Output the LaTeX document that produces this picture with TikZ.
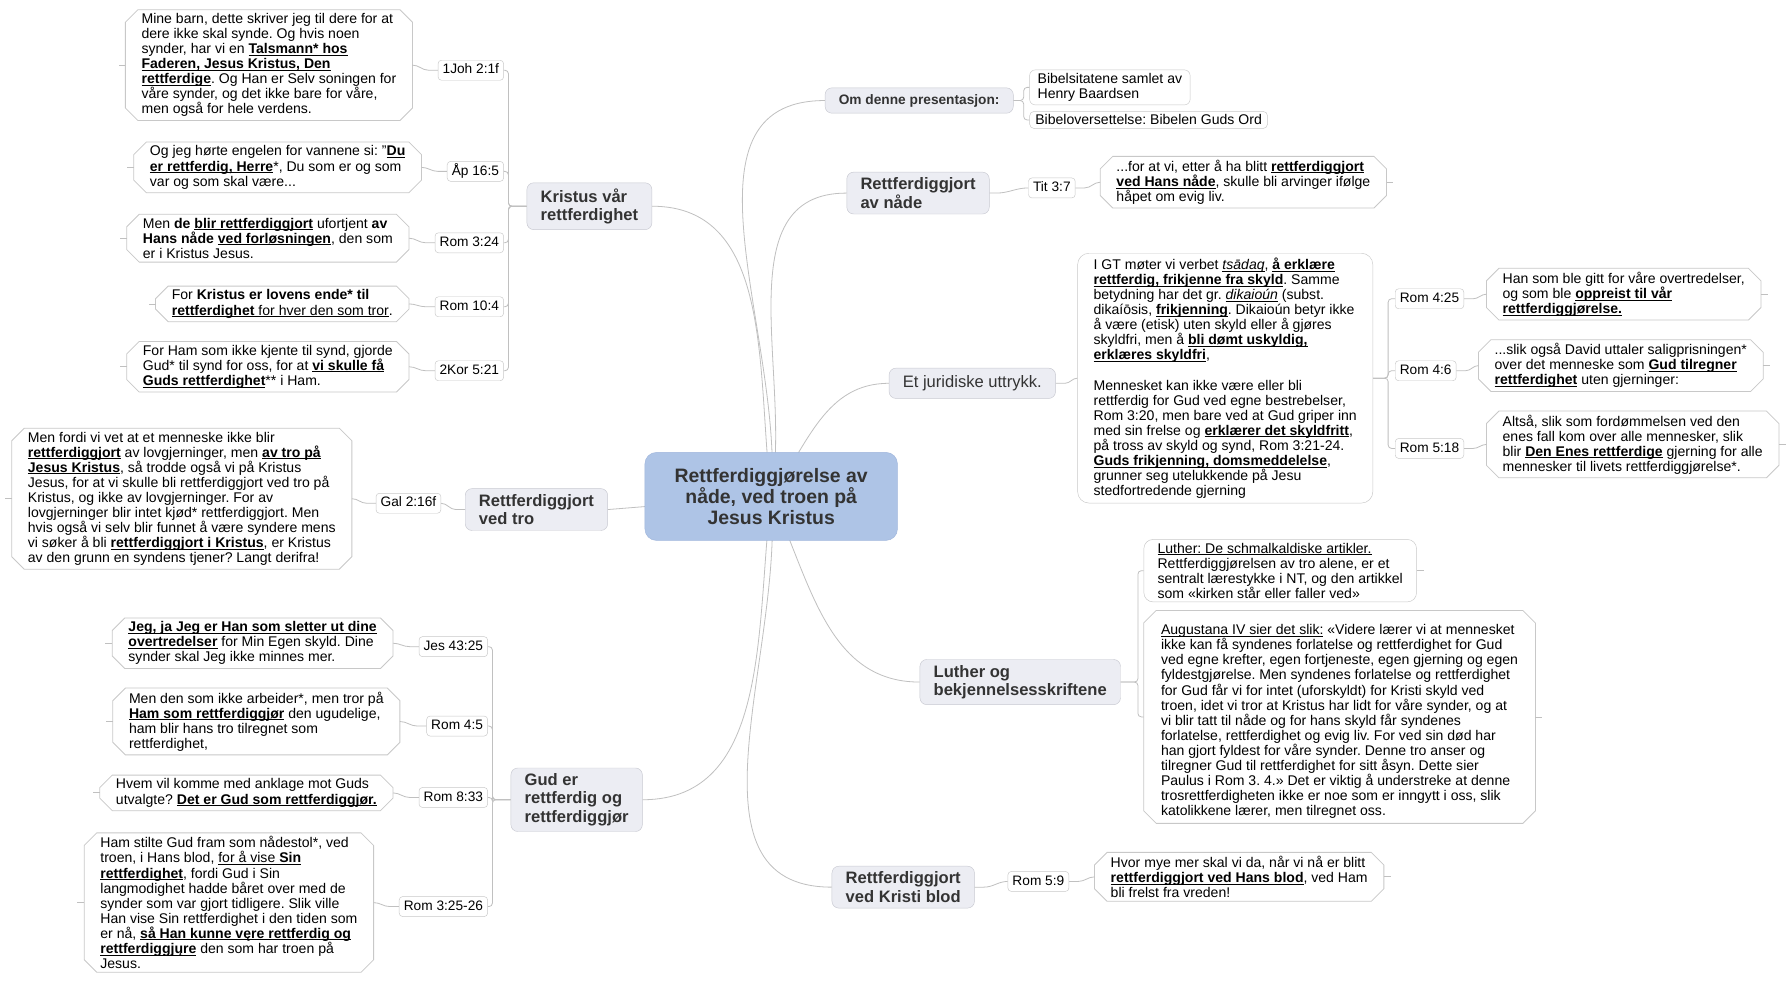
\documentclass[tikz,border=0pt]{standalone}
\usepackage{fontspec}
\setmainfont{Liberation Sans}
\usetikzlibrary{calc}

\definecolor{edgegray}{RGB}{192,192,192}
\definecolor{framegray}{RGB}{200,200,200}
\definecolor{branchfill}{RGB}{236,237,243}
\definecolor{branchframe}{RGB}{200,201,209}
\definecolor{rootfill}{RGB}{174,196,230}
\definecolor{rootframe}{RGB}{160,182,220}
\definecolor{inkgray}{RGB}{51,51,51}

\newcommand{\versefont}{\fontsize{12.3}{13.2}\selectfont\frenchspacing}
\newcommand{\reffont}{\fontsize{12}{13}\selectfont}
\newcommand{\branchfont}{\fontsize{14.5}{16}\selectfont\bfseries}
\newcommand{\rootfont}{\fontsize{17}{18.5}\selectfont\bfseries}
\newcommand{\undl}[1]{\setbox0\hbox{#1}\leavevmode\rlap{\rule[-1.8pt]{\wd0}{0.8pt}}\box0{}}
\newcommand{\ub}[1]{\undl{\textbf{#1}}}

\tikzset{
  conn/.style={draw=edgegray, line width=0.7pt},
  rootbox/.style={draw=rootframe, fill=rootfill, rounded corners=10pt, font=\rootfont, text=inkgray, align=center, minimum width=221pt, minimum height=77pt},
  branchbox/.style={draw=branchframe, fill=branchfill, rounded corners=6pt, font=\branchfont, text=inkgray, align=left, inner xsep=12pt, inner ysep=5pt},
  refbox/.style={draw=framegray, fill=white, rounded corners=3pt, font=\reffont, inner xsep=4pt, inner ysep=3pt, text height=9pt, text depth=2.5pt},
  notebox/.style={draw=framegray, fill=white, rounded corners=8pt, align=left, font=\versefont, inner xsep=12pt, inner ysep=4pt},
  versebox/.style={align=left, font=\versefont, inner xsep=14pt, inner ysep=3pt,
    append after command={\pgfextra{\let\vn\tikzlastnode
      \draw[framegray, line width=0.7pt] ([xshift=11pt]\vn.north west) -- ([xshift=-11pt]\vn.north east)
        -- ([yshift=-11pt]\vn.north east) -- ([yshift=11pt]\vn.south east)
        -- ([xshift=-11pt]\vn.south east) -- ([xshift=11pt]\vn.south west)
        -- ([yshift=11pt]\vn.south west) -- ([yshift=-11pt]\vn.north west) -- cycle;}}},
  versebox left/.style={versebox, append after command={\pgfextra{\let\vn\tikzlastnode \draw[conn] (\vn.west) -- ++(-6,0);}}},
  versebox right/.style={versebox, append after command={\pgfextra{\let\vn\tikzlastnode \draw[conn] (\vn.east) -- ++(6,0);}}}
}

\begin{document}
\begin{tikzpicture}[x=1pt,y=1pt]
\fill[white] (0,0) rectangle (1565,-858);
\useasboundingbox (0,0) rectangle (1565,-858);

% main branches
\node[branchbox, anchor=west] (kristus) at (461,-180.5) {Kristus vår\\rettferdighet};
\node[branchbox, anchor=west] (vedtro) at (407,-446) {Rettferdiggjort\\ved tro};
\node[branchbox, anchor=west] (gud) at (447,-700) {Gud er\\rettferdig og\\rettferdiggjør};
\node[branchbox, anchor=west, font=\fontsize{12}{13}\selectfont\bfseries, inner ysep=5.5pt] (omdenne) at (722,-88) {Om denne presentasjon:};
\node[branchbox, anchor=west] (avnaade) at (741,-169) {Rettferdiggjort\\av nåde};
\node[branchbox, anchor=west, font=\fontsize{14.5}{16}\selectfont, inner ysep=6.5pt] (juridisk) at (778,-335.5) {Et juridiske uttrykk.};
\node[branchbox, anchor=west] (luther) at (805,-597) {Luther og\\bekjennelsesskriftene};
\node[branchbox, anchor=west] (blod) at (728,-776.5) {Rettferdiggjort\\ved Kristi blod};

% centre
\coordinate (hub) at (675,-434.5);
\draw[conn] (kristus.east) to[out=0,in=97] (hub);
\draw[conn] (vedtro.east) -- (hub);
\draw[conn] (gud.east) to[out=0,in=263] (hub);
\draw[conn] (omdenne.west) to[out=180,in=85] (hub);
\draw[conn] (avnaade.west) to[out=180,in=80] (hub);
\draw[conn] (juridisk.west) to[out=180,in=55] (hub);
\draw[conn] (luther.west) to[out=180,in=295] (hub);
\draw[conn] (blod.west) to[out=180,in=275] (hub);
\node[rootbox] (root) at (hub) {Rettferdiggjørelse av\\nåde, ved troen på\\Jesus Kristus};

% Kristus vaar rettferdighet
\node[refbox, anchor=east] (r1joh) at (441,-61.5) {1Joh 2:1f};
\node[refbox, anchor=east] (rap) at (441,-150) {Åp 16:5};
\node[refbox, anchor=east] (r324) at (441,-212.5) {Rom 3:24};
\node[refbox, anchor=east] (r104) at (441,-268.5) {Rom 10:4};
\node[refbox, anchor=east] (r2kor) at (441,-324.5) {2Kor 5:21};
\foreach \r in {r1joh,rap,r324,r104,r2kor}
  \draw[conn, rounded corners=3pt] (kristus.west) -- ($(kristus.west -| r1joh.east)+(4,0)$) |- (\r.east);

\node[versebox left, anchor=east] (t1joh) at (361,-57) {Mine barn, dette skriver jeg til dere for at\\
dere ikke skal synde. Og hvis noen\\
synder, har vi en \ub{Talsmann* hos}\\
\ub{Faderen, Jesus Kristus, Den}\\
\ub{rettferdige}. Og Han er Selv soningen for\\
våre synder, og det ikke bare for våre,\\
men også for hele verdens.};
\node[versebox left, anchor=east] (tap) at (369,-146.5) {Og jeg hørte engelen for vannene si: "\ub{Du}\\
\ub{er rettferdig, Herre}*, Du som er og som\\
var og som skal være...};
\node[versebox left, anchor=east] (t324) at (358,-208.5) {Men \textbf{de} \ub{blir rettferdiggjort} ufortjent \textbf{av}\\
\textbf{Hans nåde} \ub{ved forløsningen}, den som\\
er i Kristus Jesus.};
\node[versebox left, anchor=east] (t104) at (358,-266) {For \textbf{Kristus er lovens ende* til}\\
\undl{\textbf{rettferdighet} for hver den som tror}.};
\node[versebox left, anchor=east] (t2kor) at (358,-321) {For Ham som ikke kjente til synd, gjorde\\
Gud* til synd for oss, for at \ub{vi skulle få}\\
\ub{Guds rettferdighet}** i Ham.};
\draw[conn] (r1joh.west) -- ++(-8,0) to[out=180,in=0] (t1joh.east);
\draw[conn] (rap.west) -- ++(-8,0) to[out=180,in=0] (tap.east);
\draw[conn] (r324.west) -- ++(-8,0) to[out=180,in=0] (t324.east);
\draw[conn] (r104.west) -- ++(-8,0) to[out=180,in=0] (t104.east);
\draw[conn] (r2kor.west) -- ++(-8,0) to[out=180,in=0] (t2kor.east);

% Rettferdiggjort ved tro
\node[refbox] (rgal) at (357.5,-440.5) {Gal 2:16f};
\node[versebox left, anchor=east] (tgal) at (308,-436.5) {Men fordi vi vet at et menneske ikke blir\\
\ub{rettferdiggjort} av lovgjerninger, men \ub{av tro på}\\
\ub{Jesus Kristus}, så trodde også vi på Kristus\\
Jesus, for at vi skulle bli rettferdiggjort ved tro på\\
Kristus, og ikke av lovgjerninger. For av\\
lovgjerninger blir intet kjød* rettferdiggjort. Men\\
hvis også vi selv blir funnet å være syndere mens\\
vi søker å bli \ub{rettferdiggjort i Kristus}, er Kristus\\
av den grunn en syndens tjener? Langt derifra!};
\draw[conn] (vedtro.west) -- ++(-8,0) to[out=180,in=0] (rgal.east);
\draw[conn] (rgal.west) -- ++(-8,0) to[out=180,in=0] (tgal.east);

% Gud er rettferdig og rettferdiggjoer
\node[refbox, anchor=east] (rjes) at (427,-566) {Jes 43:25};
\node[refbox, anchor=east] (r45) at (427,-635.5) {Rom 4:5};
\node[refbox, anchor=east] (r833) at (427,-698) {Rom 8:33};
\node[refbox, anchor=east] (r3256) at (427,-793.5) {Rom 3:25-26};
\foreach \r in {rjes,r45,r833,r3256}
  \draw[conn, rounded corners=3pt] (gud.west) -- ($(gud.west -| rjes.east)+(4,0)$) |- (\r.east);

\node[versebox left, anchor=east] (tjes) at (344,-563) {\ub{Jeg, ja Jeg er Han som sletter ut dine}\\
\ub{overtredelser} for Min Egen skyld. Dine\\
synder skal Jeg ikke minnes mer.};
\node[versebox left, anchor=east] (t45) at (350,-631.5) {Men den som ikke arbeider*, men tror på\\
\ub{Ham som rettferdiggjør} den ugudelige,\\
ham blir hans tro tilregnet som\\
rettferdighet,};
\node[versebox left, anchor=east] (t833) at (344,-694) {Hvem vil komme med anklage mot Guds\\
utvalgte? \ub{Det er Gud som rettferdiggjør.}};
\node[versebox left, anchor=east] (t3256) at (327,-790) {Ham stilte Gud fram som nådestol*, ved\\
troen, i Hans blod, \undl{for å vise \textbf{Sin}}\\
\ub{rettferdighet}, fordi Gud i Sin\\
langmodighet hadde båret over med de\\
synder som var gjort tidligere. Slik ville\\
Han vise Sin rettferdighet i den tiden som\\
er nå, \ub{så Han kunne vęre rettferdig og}\\
\ub{rettferdiggjųre} den som har troen på\\
Jesus.};
\draw[conn] (rjes.west) -- ++(-8,0) to[out=180,in=0] (tjes.east);
\draw[conn] (r45.west) -- ++(-8,0) to[out=180,in=0] (t45.east);
\draw[conn] (r833.west) -- ++(-8,0) to[out=180,in=0] (t833.east);
\draw[conn] (r3256.west) -- ++(-8,0) to[out=180,in=0] (t3256.east);

% Om denne presentasjon
\node[notebox, anchor=west, rounded corners=5pt, inner xsep=7pt, inner ysep=3pt] (tsitat) at (901,-76.5) {Bibelsitatene samlet av\\Henry Baardsen};
\node[notebox, anchor=west, rounded corners=4pt, inner xsep=5pt, inner ysep=3pt] (tovers) at (901,-105) {Bibeloversettelse: Bibelen Guds Ord};
\draw[conn, rounded corners=3pt] (omdenne.east) -- ($(omdenne.east -| tsitat.west)+(-5,0)$) |- (tsitat.west);
\draw[conn, rounded corners=3pt] (omdenne.east) -- ($(omdenne.east -| tsitat.west)+(-5,0)$) |- (tovers.west);

% Rettferdiggjort av naade
\node[refbox, anchor=west] (rtit) at (900,-164.5) {Tit 3:7};
\node[versebox right, anchor=west] (ttit) at (963,-159.5) {...for at vi, etter å ha blitt \ub{rettferdiggjort}\\
\ub{ved Hans nåde}, skulle bli arvinger ifølge\\
håpet om evig liv.};
\draw[conn] (avnaade.east) -- ++(6,0) to[out=0,in=180] (rtit.west);
\draw[conn] (rtit.east) -- ++(8,0) to[out=0,in=180] (ttit.west);

% Et juridiske uttrykk
\node[notebox, anchor=west, rounded corners=10pt, inner xsep=14pt] (tjur) at (943,-331) {I GT møter vi verbet \undl{\textit{tsādaq}}, \ub{å erklære}\\
\ub{rettferdig, frikjenne fra skyld}. Samme\\
betydning har det gr. \undl{\textit{dikaioún}} (subst.\\
dikaíōsis, \ub{frikjenning}. Dikaioún betyr ikke\\
å være (etisk) uten skyld eller å gjøres\\
skyldfri, men å \ub{bli dømt uskyldig,}\\
\ub{erklæres skyldfri},\\[13.2pt]
Mennesket kan ikke være eller bli\\
rettferdig for Gud ved egne bestrebelser,\\
Rom 3:20, men bare ved at Gud griper inn\\
med sin frelse og \ub{erklærer det skyldfritt},\\
på tross av skyld og synd, Rom 3:21-24.\\
\ub{Guds frikjenning, domsmeddelelse},\\
grunner seg utelukkende på Jesu\\
stedfortredende gjerning};
\draw[conn] (juridisk.east) -- ++(8,0) to[out=0,in=180] (tjur.west);

\node[refbox, anchor=west] (r425) at (1221,-261.5) {Rom 4:25};
\node[refbox, anchor=west] (r46) at (1221,-324.5) {Rom 4:6};
\node[refbox, anchor=west] (r518) at (1221,-392.5) {Rom 5:18};
\foreach \r in {r425,r46,r518}
  \draw[conn, rounded corners=3pt] (tjur.east) -- ($(tjur.east -| r425.west)+(-6,0)$) |- (\r.west);

\node[versebox right, anchor=west] (thansom) at (1301,-257.5) {Han som ble gitt for våre overtredelser,\\
og som ble \ub{oppreist til vår}\\
\ub{rettferdiggjørelse.}};
\node[versebox right, anchor=west] (tslik) at (1294,-320) {...slik også David uttaler saligprisningen*\\
over det menneske som \ub{Gud tilregner}\\
\ub{rettferdighet} uten gjerninger:};
\node[versebox right, anchor=west] (taltsaa) at (1301,-389) {Altså, slik som fordømmelsen ved den\\
enes fall kom over alle mennesker, slik\\
blir \ub{Den Enes rettferdige} gjerning for alle\\
mennesker til livets rettferdiggjørelse*.};
\draw[conn] (r425.east) -- ++(8,0) to[out=0,in=180] (thansom.west);
\draw[conn] (r46.east) -- ++(8,0) to[out=0,in=180] (tslik.west);
\draw[conn] (r518.east) -- ++(8,0) to[out=0,in=180] (taltsaa.west);

% Luther og bekjennelsesskriftene
\node[notebox, anchor=west, inner ysep=3pt] (tluther) at (1001,-499.5) {\undl{Luther: De schmalkaldiske artikler.}\\
Rettferdiggjørelsen av tro alene, er et\\
sentralt lærestykke i NT, og den artikkel\\
som «kirken står eller faller ved»};
\draw[conn] (tluther.east) -- ++(6,0);
\node[versebox right, anchor=west, inner xsep=15pt, inner ysep=4pt] (taug) at (1001,-627.5) {\rule{0pt}{17pt}\undl{Augustana IV sier det slik:} «Videre lærer vi at mennesket\\
ikke kan få syndenes forlatelse og rettferdighet for Gud\\
ved egne krefter, egen fortjeneste, egen gjerning og egen\\
fyldestgjørelse. Men syndenes forlatelse og rettferdighet\\
for Gud får vi for intet (uforskyldt) for Kristi skyld ved\\
troen, idet vi tror at Kristus har lidt for våre synder, og at\\
vi blir tatt til nåde og for hans skyld får syndenes\\
forlatelse, rettferdighet og evig liv. For ved sin død har\\
han gjort fyldest for våre synder. Denne tro anser og\\
tilregner Gud til rettferdighet for sitt åsyn. Dette sier\\
Paulus i Rom 3. 4.» Det er viktig å understreke at denne\\
trosrettferdigheten ikke er noe som er inngytt i oss, slik\\
katolikkene lærer, men tilregnet oss.};
\draw[conn, rounded corners=3pt] (luther.east) -- ($(luther.east -| tluther.west)+(-5,0)$) |- (tluther.west);
\draw[conn, rounded corners=3pt] (luther.east) -- ($(luther.east -| tluther.west)+(-5,0)$) |- (taug.west);

% Rettferdiggjort ved Kristi blod
\node[refbox, anchor=west] (r59) at (882,-771.5) {Rom 5:9};
\node[versebox right, anchor=west] (thvor) at (958,-767.5) {Hvor mye mer skal vi da, når vi nå er blitt\\
\ub{rettferdiggjort ved Hans blod}, ved Ham\\
bli frelst fra vreden!};
\draw[conn] (blod.east) -- ++(8,0) to[out=0,in=180] (r59.west);
\draw[conn] (r59.east) -- ++(8,0) to[out=0,in=180] (thvor.west);

\end{tikzpicture}
\end{document}
